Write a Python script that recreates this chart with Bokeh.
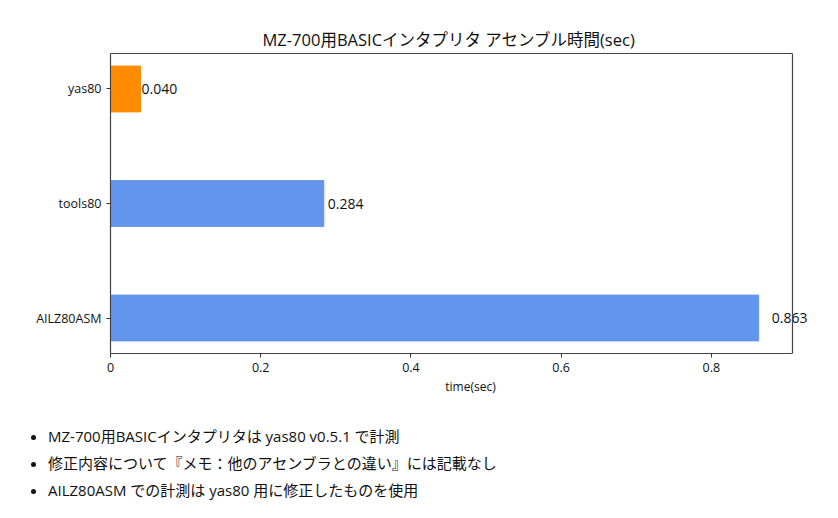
from bokeh.plotting import figure
from bokeh.models import ColumnDataSource, Range1d, FixedTicker, Div, Label, LinearAxis, Span
from bokeh.layouts import column
from bokeh.embed import file_html
from bokeh.resources import INLINE

FONT = "'Open Sans', 'Noto Sans CJK JP'"

tools = ["yas80", "tools80", "AILZ80ASM"]
times = [0.040, 0.284, 0.863]
colors = ["#ff8c00", "#6495ed", "#6495ed"]
x_ticks = [0.0, 0.2, 0.4, 0.6, 0.8]
notes = [
    "MZ-700用BASICインタプリタは yas80 v0.5.1 で計測",
    "修正内容について『メモ：他のアセンブラとの違い』には記載なし",
    "AILZ80ASM での計測は yas80 用に修正したものを使用",
]

# matplotlib barh puts the first item at the bottom; here yas80 is on top
ypos = [len(tools) - 1 - i for i in range(len(tools))]
labels = ["%.3f" % t for t in times]
label_pad = [1, 4, 13]

X_MAX = 0.908          # where the right spine sits
SPINE = "#444444"

source = ColumnDataSource(data=dict(tool=tools, time=times, y=ypos, color=colors))

# the frame runs past the right spine so the last value label is not clipped
p = figure(width=838, height=403, output_backend="svg", toolbar_location=None,
           x_range=Range1d(0, X_MAX * 720 / 682), y_range=Range1d(-0.31, 2.31),
           title="MZ-700用BASICインタプリタ アセンブル時間(sec)",
           x_axis_label="time(sec)",
           min_border_left=110, min_border_right=8,
           min_border_top=53, min_border_bottom=50)

p.hbar(y="y", right="time", left=0, height=0.4, color="color", source=source)

for t, y, txt, pad in zip(times, ypos, labels, label_pad):
    p.add_layout(Label(x=t, y=y, text=txt, x_offset=pad,
                       text_align="left", text_baseline="middle",
                       text_font_size="14px", text_font=FONT,
                       text_color="#111111"))

p.title.align = "left"
p.title.offset = 152
p.title.text_font = FONT
p.title.text_font_size = "16.5px"
p.title.text_font_style = "normal"
p.title.text_color = "#111111"
p.title.standoff = 6

p.xgrid.visible = False
p.ygrid.visible = False
p.outline_line_color = None

xb = p.below[0]
yl = p.left[0]
yl.ticker = FixedTicker(ticks=ypos)
yl.major_label_overrides = {y: t for y, t in zip(ypos, tools)}
xb.ticker = FixedTicker(ticks=x_ticks)
xb.bounds = (0, X_MAX)

for ax in (xb, yl):
    ax.major_label_text_font = FONT
    ax.major_label_text_font_size = "12.5px"
    ax.major_label_text_color = "#111111"
    ax.axis_line_color = SPINE
    ax.axis_line_width = 1.2
    ax.major_tick_in = 0
    ax.major_tick_out = 4
    ax.major_tick_line_color = "#333333"
    ax.minor_tick_line_color = None
    ax.axis_label_text_font = FONT
    ax.axis_label_text_font_size = "12px"
    ax.axis_label_text_font_style = "normal"
    ax.axis_label_text_color = "#111111"
xb.axis_label_standoff = 3
xb.major_label_standoff = 5

# spines: top as a bare axis, right as a span
top = LinearAxis(bounds=(0, X_MAX), ticker=FixedTicker(ticks=[]),
                 major_tick_in=0, major_tick_out=0, minor_tick_line_color=None,
                 major_label_text_color=None, major_label_standoff=0,
                 axis_line_color=SPINE, axis_line_width=1.2)
p.add_layout(top, "above")
p.add_layout(Span(location=X_MAX, dimension="height", line_color=SPINE, line_width=1.2))

items = "".join('<li style="margin:0 0 6px 0">%s</li>' % n for n in notes)
div = Div(text='<ul style="margin:0; padding-left:43px; font-family:%s; '
               'font-size:15px; line-height:21px; color:#111">%s</ul>' % (FONT, items),
          width=830, height=100, styles={"margin-top": "23px"})

layout = column(p, div)
open("out.html", "w").write(file_html(layout, INLINE))
